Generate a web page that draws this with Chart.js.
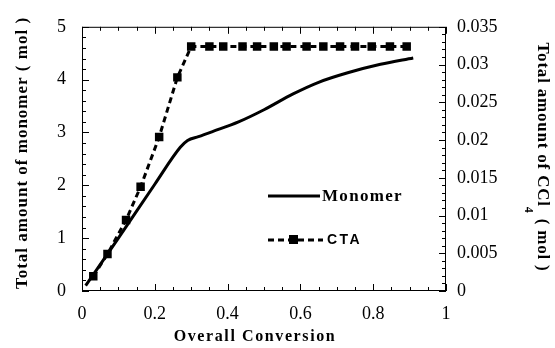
<!DOCTYPE html>
<html>
<head>
<meta charset="utf-8">
<script src="https://cdn.jsdelivr.net/npm/chart.js@4"></script>
<style>
  html, body { margin: 0; padding: 0; background: #fff; }
  #wrap { width: 555px; height: 348px; }
</style>
</head>
<body>
<div id="wrap"><canvas id="grafico" width="555" height="348"></canvas></div>
<script>
// conversao x monomero (linha continua)
const conversaoMonomero = [0.01, 0.1, 0.2, 0.27, 0.29, 0.32, 0.36, 0.43, 0.5, 0.58, 0.65, 0.73, 0.82, 0.91];
const monomero = [0.1, 1.0, 2.02, 2.72, 2.85, 2.92, 3.02, 3.2, 3.43, 3.73, 3.95, 4.13, 4.29, 4.41];

// conversao x CTA (CCl4), eixo direito
const conversaoCTA = [0.031, 0.07, 0.121, 0.161, 0.212, 0.262, 0.30, 0.35, 0.388, 0.441, 0.481, 0.527,
  0.562, 0.617, 0.663, 0.709, 0.75, 0.796, 0.846, 0.892];
const cta = [0.00195, 0.0049, 0.0094, 0.0138, 0.0204, 0.0283, 0.0324, 0.0324, 0.0324, 0.0324, 0.0324,
  0.0324, 0.0324, 0.0324, 0.0324, 0.0324, 0.0324, 0.0324, 0.0324, 0.0324];

const ticksX = [0, 0.2, 0.4, 0.6, 0.8, 1];
const rotulosX = ["0", "0.2", "0.4", "0.6", "0.8", "1"];
const ticksEsq = [0, 1, 2, 3, 4, 5];
const rotulosEsq = ["0", "1", "2", "3", "4", "5"];
const ticksDir = [0, 0.005, 0.01, 0.015, 0.02, 0.025, 0.03, 0.035];
const rotulosDir = ["0", "0.005", "0.01", "0.015", "0.02", "0.025", "0.03", "0.035"];

const serif = "'Liberation Serif', 'Times New Roman', serif";

function pares(xs, ys) {
  return xs.map((x, i) => ({ x: x, y: ys[i] }));
}

function fixarTicks(valores) {
  return (scale) => {
    scale.ticks = valores.map((v) => ({ value: v }));
  };
}

function rotulos(valores, textos) {
  return (value) => {
    const i = valores.findIndex((v) => Math.abs(v - value) < 1e-9);
    return i >= 0 ? textos[i] : "";
  };
}

// moldura, marcas internas, titulos e legenda
const moldura = {
  id: "moldura",
  afterDraw(chart) {
    const ctx = chart.ctx;
    const a = chart.chartArea;
    const sx = chart.scales.x, sy = chart.scales.y, sy1 = chart.scales.y1;
    ctx.save();
    ctx.strokeStyle = "#000";
    ctx.lineWidth = 1;
    ctx.strokeRect(a.left + 0.5, a.top + 0.5, a.right - a.left - 1, a.bottom - a.top - 1);

    ctx.beginPath();
    for (let i = 0; i <= 20; i++) {
      const v = i * 0.05;
      const px = Math.round(sx.getPixelForValue(v)) + 0.5;
      const len = i % 4 === 0 ? 7 : 4;
      ctx.moveTo(px, a.bottom); ctx.lineTo(px, a.bottom - len);
      ctx.moveTo(px, a.top); ctx.lineTo(px, a.top + len);
    }
    for (let i = 0; i <= 25; i++) {
      const py = Math.round(sy.getPixelForValue(i * 0.2)) + 0.5;
      const len = i % 5 === 0 ? 7 : 4;
      ctx.moveTo(a.left, py); ctx.lineTo(a.left + len, py);
    }
    for (let i = 0; i <= 35; i++) {
      const py = Math.round(sy1.getPixelForValue(i * 0.001)) + 0.5;
      const len = i % 5 === 0 ? 7 : 4;
      ctx.moveTo(a.right, py); ctx.lineTo(a.right - len, py);
    }
    ctx.stroke();

    ctx.fillStyle = "#000";
    // titulo eixo x
    ctx.font = "bold 16px " + serif;
    ctx.letterSpacing = "1.6px";
    ctx.textAlign = "center";
    ctx.textBaseline = "middle";
    ctx.fillText("Overall Conversion", 255, 337);

    // titulo eixo esquerdo
    ctx.save();
    ctx.translate(23, 153);
    ctx.rotate(-Math.PI / 2);
    ctx.font = "bold 17px " + serif;
    ctx.letterSpacing = "1px";
    ctx.fillText("Total amount of monomer ( mol )", 0, 0);
    ctx.restore();

    // titulo eixo direito (com subscrito)
    ctx.save();
    ctx.translate(542, 157);
    ctx.rotate(Math.PI / 2);
    ctx.letterSpacing = "0.8px";
    const p1 = "Total amount of CCl";
    const p2 = " ( mol )";
    ctx.font = "bold 17px " + serif;
    const w1 = ctx.measureText(p1).width;
    const w2 = ctx.measureText(p2).width;
    ctx.font = "bold 12px " + serif;
    const ws = ctx.measureText("4").width;
    const total = w1 + ws + w2;
    const x0 = -total / 2;
    ctx.textAlign = "left";
    ctx.font = "bold 17px " + serif;
    ctx.fillText(p1, x0, 0);
    ctx.font = "bold 12px " + serif;
    ctx.fillText("4", x0 + w1, 14);
    ctx.font = "bold 17px " + serif;
    ctx.fillText(p2, x0 + w1 + ws, 0);
    ctx.restore();

    // legenda
    ctx.lineWidth = 3;
    ctx.beginPath();
    ctx.moveTo(268, 196); ctx.lineTo(320, 196);
    ctx.stroke();
    ctx.textAlign = "left";
    ctx.font = "bold 17px " + serif;
    ctx.letterSpacing = "1.3px";
    ctx.fillText("Monomer", 322, 197);

    ctx.lineWidth = 3;
    ctx.setLineDash([6, 4]);
    ctx.beginPath();
    ctx.moveTo(268, 240); ctx.lineTo(323, 240);
    ctx.stroke();
    ctx.setLineDash([]);
    ctx.fillRect(289, 235, 9, 9);
    ctx.font = "bold 14px 'Liberation Sans', Arial, sans-serif";
    ctx.letterSpacing = "2.5px";
    ctx.fillText("CTA", 327, 240);
    ctx.restore();
  },
};

const ctx = document.getElementById("grafico").getContext("2d");
const grafico = new Chart(ctx, {
  type: "line",
  data: {
    datasets: [
      {
        label: "Monomer",
        data: pares(conversaoMonomero, monomero),
        yAxisID: "y",
        borderColor: "#000",
        borderWidth: 3,
        pointRadius: 0,
        cubicInterpolationMode: "monotone",
        fill: false,
      },
      {
        label: "CTA",
        data: pares(conversaoCTA, cta),
        yAxisID: "y1",
        borderColor: "#000",
        backgroundColor: "#000",
        borderWidth: 3,
        borderDash: [6, 4],
        pointStyle: "rect",
        pointRadius: 6,
        pointBorderWidth: 0,
        fill: false,
      },
    ],
  },
  options: {
    responsive: false,
    animation: false,
    layout: { padding: { top: 21, left: 0, right: 0, bottom: 0 } },
    plugins: { legend: { display: false }, tooltip: { enabled: false } },
    scales: {
      x: {
        type: "linear",
        min: 0,
        max: 1,
        afterBuildTicks: fixarTicks(ticksX),
        afterFit: (s) => { s.height = 57; },
        grid: { display: false, drawTicks: false },
        border: { display: false },
        ticks: {
          color: "#000",
          font: { family: serif, size: 18 },
          padding: 12,
          maxRotation: 0,
          callback: rotulos(ticksX, rotulosX),
        },
      },
      y: {
        position: "left",
        min: 0,
        max: 5,
        afterBuildTicks: fixarTicks(ticksEsq),
        afterFit: (s) => { s.width = 82; },
        grid: { display: false, drawTicks: false },
        border: { display: false },
        ticks: {
          color: "#000",
          font: { family: serif, size: 18 },
          padding: 16,
          callback: rotulos(ticksEsq, rotulosEsq),
        },
      },
      y1: {
        position: "right",
        min: 0,
        max: 0.035,
        afterBuildTicks: fixarTicks(ticksDir),
        afterFit: (s) => { s.width = 109; },
        grid: { display: false, drawTicks: false },
        border: { display: false },
        ticks: {
          color: "#000",
          font: { family: serif, size: 18 },
          padding: 11,
          callback: rotulos(ticksDir, rotulosDir),
        },
      },
    },
  },
  plugins: [moldura],
});
</script>
</body>
</html>
